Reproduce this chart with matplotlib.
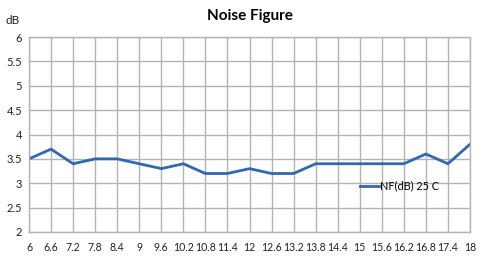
import matplotlib
matplotlib.use("Agg")
import matplotlib.pyplot as plt

plt.rcParams['font.family'] = ['Lato', 'DejaVu Sans']

freq = [6, 6.6, 7.2, 7.8, 8.4, 9, 9.6, 10.2, 10.8, 11.4, 12, 12.6, 13.2, 13.8, 14.4, 15, 15.6, 16.2, 16.8, 17.4, 18]
freq_labels = ["6", "6.6", "7.2", "7.8", "8.4", "9", "9.6", "10.2", "10.8", "11.4", "12", "12.6", "13.2", "13.8", "14.4", "15", "15.6", "16.2", "16.8", "17.4", "18"]
nf_25c = [3.5, 3.7, 3.4, 3.5, 3.5, 3.4, 3.3, 3.4, 3.2, 3.2, 3.3, 3.2, 3.2, 3.4, 3.4, 3.4, 3.4, 3.4, 3.6, 3.4, 3.8]
y_ticks = [2, 2.5, 3, 3.5, 4, 4.5, 5, 5.5, 6]

fig = plt.figure(figsize=(4.8, 2.61), dpi=100)
ax = fig.add_axes([29/480, 1 - 232/261, (470-29)/480, (232-37)/261])

ax.plot(freq, nf_25c, color='#3068b3', lw=2.0, label='NF(dB) 25 C', solid_joinstyle='miter')
ax.set_xlim(6, 18)
ax.set_ylim(2, 6)
ax.set_xticks(freq)
ax.set_xticklabels(freq_labels)
ax.set_yticks(y_ticks)
ax.set_yticklabels([f"{v:g}" for v in y_ticks])
ax.grid(True, color='#b3b3b3', lw=1.0)
ax.set_axisbelow(True)
for s in ax.spines.values():
    s.set_color('#b3b3b3')
    s.set_linewidth(1.0)
ax.tick_params(length=0, colors='#222222')
ax.tick_params(axis='x', labelsize=7.6, pad=7)
ax.tick_params(axis='y', labelsize=8, pad=5)

ax.legend(loc='center left', bbox_to_anchor=(0.74, 0.235), frameon=False,
          fontsize=7.8, handlelength=1.8, handletextpad=0.1, borderaxespad=0)

fig.text(250/480, 1 - 16/261, 'Noise Figure', ha='center', va='center', fontsize=11, fontweight='bold')
fig.text(13/480, 1 - 20/261, 'dB', ha='center', va='center', fontsize=8.5, color='#222222')

fig.savefig('out.png', dpi=100)
